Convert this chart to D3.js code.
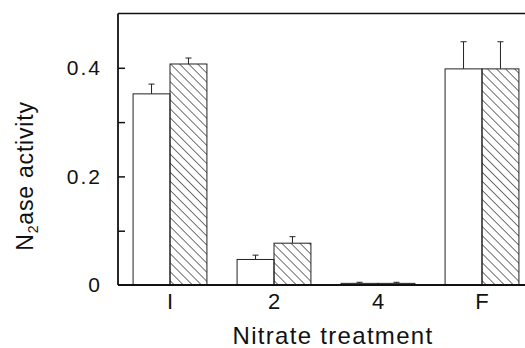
<!DOCTYPE html>
<html>
<head>
<meta charset="utf-8">
<script src="https://cdn.jsdelivr.net/npm/d3@7"></script>
<style>
  html, body { margin: 0; padding: 0; background: #fff; }
  svg { display: block; font-family: "Liberation Sans", Arial, Helvetica, sans-serif; }
</style>
</head>
<body>
<svg id="chart" width="525" height="348"></svg>
<script>
const categories = ["I", "2", "4", "F"];
const series = ["open", "hatched"];
const openValues = [0.352, 0.047, 0.003, 0.398];
const openErrors = [0.018, 0.008, 0.002, 0.050];
const hatchedValues = [0.407, 0.077, 0.003, 0.398];
const hatchedErrors = [0.011, 0.012, 0.002, 0.050];
const yTickValues = [0, 0.2, 0.4];
const yMinorTicks = [0.1, 0.2, 0.3, 0.4];

(function () {
const svg = d3.select("#chart");
const W = 525;
const mLeft = 118, mRight = 534, mTop = 13.5, mBottom = 285;

const defs = svg.append("defs");
const pat = defs.append("pattern")
  .attr("id", "hatch")
  .attr("patternUnits", "userSpaceOnUse")
  .attr("width", 6.4).attr("height", 6.4)
  .attr("patternTransform", "rotate(-45)");
pat.append("line")
  .attr("x1", 0).attr("y1", 0).attr("x2", 0).attr("y2", 6.4)
  .attr("stroke", "#111").attr("stroke-width", 1.2);

const x = d3.scaleBand().domain(categories).range([mLeft, mRight])
  .paddingInner(0.29).paddingOuter(0.145);
const xs = d3.scaleBand().domain(series).range([0, x.bandwidth()]);
const y = d3.scaleLinear().domain([0, 0.5]).range([mBottom, mTop]);

const rows = categories.map((c, i) => ({
  cat: c,
  vals: [
    { s: "open", v: openValues[i], e: openErrors[i] },
    { s: "hatched", v: hatchedValues[i], e: hatchedErrors[i] }
  ]
}));

const g = svg.append("g");
const groups = g.selectAll("g.grp").data(rows).join("g")
  .attr("class", "grp")
  .attr("transform", d => `translate(${x(d.cat)},0)`);

groups.selectAll("g.err").data(d => d.vals).join("g").attr("class", "err").each(function(d) {
  const cx = xs(d.s) + xs.bandwidth() / 2;
  const sel = d3.select(this);
  sel.append("line").attr("x1", cx).attr("x2", cx)
    .attr("y1", y(d.v)).attr("y2", y(d.v + d.e))
    .attr("stroke", "#222").attr("stroke-width", 1);
  sel.append("line").attr("x1", cx - 3).attr("x2", cx + 3)
    .attr("y1", y(d.v + d.e)).attr("y2", y(d.v + d.e))
    .attr("stroke", "#222").attr("stroke-width", 1);
});

groups.selectAll("rect").data(d => d.vals).join("rect")
  .attr("x", d => xs(d.s))
  .attr("width", xs.bandwidth())
  .attr("y", d => y(d.v))
  .attr("height", d => y(0) - y(d.v))
  .attr("fill", d => d.s === "hatched" ? "url(#hatch)" : "#fff")
  .attr("stroke", "#222")
  .attr("stroke-width", 1);

svg.append("line").attr("x1", mLeft).attr("x2", W).attr("y1", mTop).attr("y2", mTop)
  .attr("stroke", "#111").attr("stroke-width", 1.6);
svg.append("line").attr("x1", mLeft).attr("x2", W).attr("y1", mBottom).attr("y2", mBottom)
  .attr("stroke", "#111").attr("stroke-width", 1.8);

const yAxis = d3.axisLeft(y).tickValues(yMinorTicks).tickSize(-7).tickFormat("");
const ya = svg.append("g").attr("transform", `translate(${mLeft},0)`).call(yAxis);
ya.select(".domain").attr("stroke", "#111").attr("stroke-width", 1.8)
  .attr("d", `M0,${mTop}V${mBottom}`);
ya.selectAll(".tick line").attr("stroke", "#111").attr("stroke-width", 1.5);

const yLab = d3.axisLeft(y).tickValues(yTickValues).tickSize(0).tickPadding(16)
  .tickFormat(d => d === 0 ? "0" : d3.format(".1f")(d));
const yl = svg.append("g").attr("transform", `translate(${mLeft},0)`).call(yLab);
yl.select(".domain").remove();
yl.selectAll("text").attr("font-size", 21).attr("fill", "#111")
  .attr("letter-spacing", 2)
  .attr("font-family", "Liberation Sans, Arial, sans-serif");

const xAxis = d3.axisBottom(x).tickSize(0).tickPadding(8);
const xa = svg.append("g").attr("transform", `translate(0,${mBottom})`).call(xAxis);
xa.select(".domain").remove();
xa.selectAll("text").attr("font-size", 22).attr("fill", "#111")
  .attr("font-family", "Liberation Sans, Arial, sans-serif");

svg.append("text").attr("x", 333).attr("y", 344)
  .attr("text-anchor", "middle").attr("font-size", 24).attr("fill", "#111")
  .attr("letter-spacing", 1.3)
  .text("Nitrate treatment");

const yt = svg.append("text")
  .attr("transform", "translate(33,176) rotate(-90)")
  .attr("text-anchor", "middle").attr("font-size", 23).attr("fill", "#111")
  .attr("letter-spacing", 0.8);
yt.append("tspan").text("N");
yt.append("tspan").attr("font-size", 14).attr("dy", 5).text("2");
yt.append("tspan").attr("dy", -5).text("ase activity");
})();
</script>
</body>
</html>
